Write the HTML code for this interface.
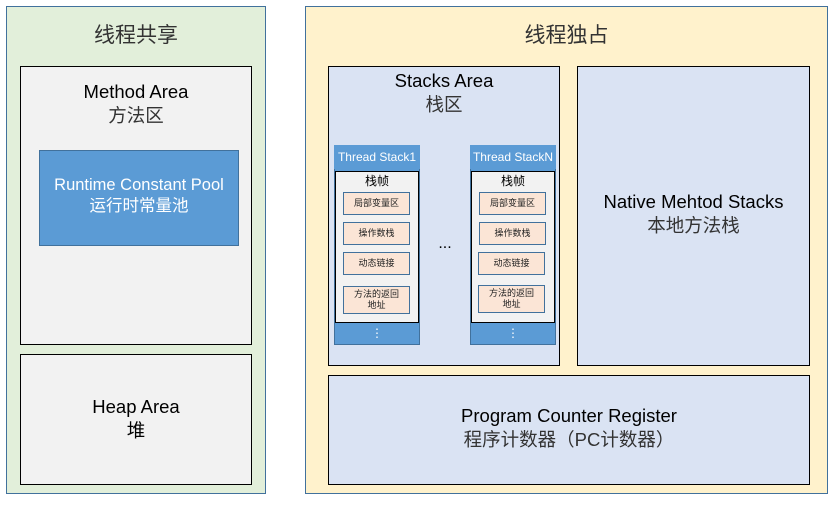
<!DOCTYPE html>
<html><head><meta charset="utf-8"><style>
body{margin:0;width:837px;height:505px;background:#fff;position:relative;overflow:hidden;font-family:"Liberation Sans","Noto Sans CJK SC",sans-serif;}
div{position:absolute;box-sizing:border-box;}
.t{text-align:center;color:#000;line-height:1.3;}
.it{background:#fbe5d6;border:1px solid #41719c;font-size:9px;text-align:center;display:flex;align-items:center;justify-content:center;line-height:1.2;color:#222;}
.hd{background:#5b9bd5;color:#fff;font-size:12px;text-align:center;line-height:24px;}
</style></head><body>
<div style="left:6px;top:6px;width:260px;height:488px;background:#e2efda;border:1px solid #41719c;"></div>
<div class="t" style="left:6px;top:22px;width:260px;font-size:21px;color:#333;">线程共享</div>
<div style="left:20px;top:66px;width:232px;height:279px;background:#f2f2f2;border:1px solid #000;"></div>
<div class="t" style="left:20px;top:80px;width:232px;font-size:18.5px;">Method Area<br><span style="color:#333">方法区</span></div>
<div style="left:39px;top:150px;width:200px;height:96px;background:#5b9bd5;border:1px solid #41719c;"></div>
<div class="t" style="left:39px;top:175px;width:200px;font-size:16.5px;color:#fff;">Runtime Constant Pool<br>运行时常量池</div>
<div style="left:20px;top:354px;width:232px;height:131px;background:#f2f2f2;border:1px solid #000;"></div>
<div class="t" style="left:20px;top:395px;width:232px;font-size:18.5px;">Heap Area<br>堆</div>

<div style="left:305px;top:6px;width:523px;height:488px;background:#fff2cc;border:1px solid #41719c;"></div>
<div class="t" style="left:305px;top:22px;width:523px;font-size:21px;color:#333;">线程独占</div>
<div style="left:328px;top:66px;width:232px;height:300px;background:#dae3f3;border:1px solid #000;"></div>
<div class="t" style="left:328px;top:69px;width:232px;font-size:18.5px;">Stacks Area<br><span style="color:#333">栈区</span></div>
<div style="left:577px;top:66px;width:233px;height:300px;background:#dae3f3;border:1px solid #000;"></div>
<div class="t" style="left:577px;top:190px;width:233px;font-size:18.5px;">Native Mehtod Stacks<br><span style="color:#333">本地方法栈</span></div>
<div style="left:328px;top:375px;width:482px;height:110px;background:#dae3f3;border:1px solid #000;"></div>
<div class="t" style="left:328px;top:404px;width:482px;font-size:18.5px;">Program Counter Register<br><span style="color:#333">程序计数器（PC计数器）</span></div>

<div class="t" style="left:420px;top:234px;width:50px;font-size:16px;">...</div>

<!-- stack 1 -->
<div style="left:334px;top:145px;width:86px;height:200px;background:#5b9bd5;border:1px solid #41719c;"></div>
<div class="hd" style="left:334px;top:145px;width:86px;height:24px;">Thread Stack1</div>
<div style="left:335px;top:171px;width:84px;height:152px;background:#f2f2f2;border:1px solid #000;"></div>
<div class="t" style="left:335px;top:174px;width:84px;font-size:12px;">栈帧</div>
<div class="it" style="left:343px;top:192px;width:67px;height:23px;">局部变量区</div>
<div class="it" style="left:343px;top:222px;width:67px;height:23px;">操作数栈</div>
<div class="it" style="left:343px;top:252px;width:67px;height:23px;">动态链接</div>
<div class="it" style="left:343px;top:286px;width:67px;height:28px;">方法的返回<br>地址</div>
<div class="t" style="left:334px;top:328px;width:86px;font-size:12px;color:#fff;line-height:10px;">⋮</div>

<!-- stack N -->
<div style="left:470px;top:145px;width:86px;height:200px;background:#5b9bd5;border:1px solid #41719c;"></div>
<div class="hd" style="left:470px;top:145px;width:86px;height:24px;">Thread StackN</div>
<div style="left:471px;top:171px;width:84px;height:152px;background:#f2f2f2;border:1px solid #000;"></div>
<div class="t" style="left:471px;top:174px;width:84px;font-size:12px;">栈帧</div>
<div class="it" style="left:479px;top:192px;width:67px;height:23px;">局部变量区</div>
<div class="it" style="left:479px;top:222px;width:67px;height:23px;">操作数栈</div>
<div class="it" style="left:478px;top:252px;width:67px;height:23px;">动态链接</div>
<div class="it" style="left:478px;top:285px;width:67px;height:28px;">方法的返回<br>地址</div>
<div class="t" style="left:470px;top:328px;width:86px;font-size:12px;color:#fff;line-height:10px;">⋮</div>
</body></html>
